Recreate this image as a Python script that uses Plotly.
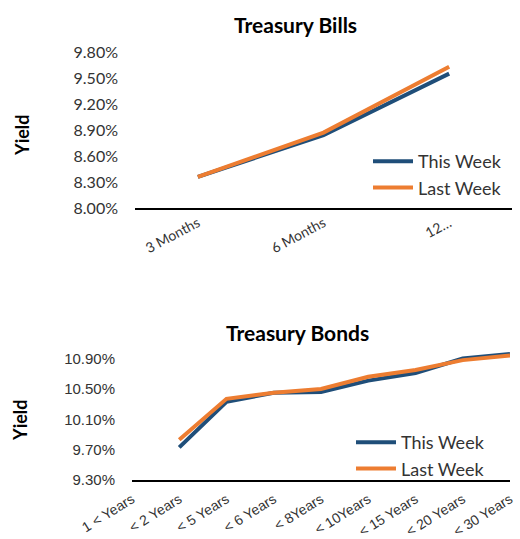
import plotly.graph_objects as go

# ---- Data ----
bill_categories = ["3 Months", "6 Months", "12…"]
bill_this_week = [8.36, 8.84, 9.55]
bill_last_week = [8.36, 8.87, 9.63]
bill_yticks = [8.00, 8.30, 8.60, 8.90, 9.20, 9.50, 9.80]

bond_categories = ["1 < Years", "< 2 Years", "< 5 Years", "< 6 Years", "< 8Years",
                   "< 10Years", "< 15 Years", "< 20 Years", "< 30 Years"]
bond_this_week = [None, 9.73, 10.33, 10.45, 10.46, 10.61, 10.71, 10.90, 10.96]
bond_last_week = [None, 9.83, 10.37, 10.45, 10.50, 10.66, 10.75, 10.88, 10.94]
bond_yticks = [9.30, 9.70, 10.10, 10.50, 10.90]

BLUE = "#1F4E79"
ORANGE = "#ED7D31"
FONT = "Lato, DejaVu Sans, sans-serif"
FONT2 = "Liberation Sans, Arial, sans-serif"

W, H = 520, 539

def yf(px):
    return 1 - px / H

fig = go.Figure()

# Top chart
fig.add_trace(go.Scatter(x=bill_categories, y=bill_this_week, name="This Week", mode="lines",
                         line=dict(color=BLUE, width=4), xaxis="x", yaxis="y", legend="legend"))
fig.add_trace(go.Scatter(x=bill_categories, y=bill_last_week, name="Last Week", mode="lines",
                         line=dict(color=ORANGE, width=4), xaxis="x", yaxis="y", legend="legend"))
# Bottom chart
fig.add_trace(go.Scatter(x=bond_categories, y=bond_this_week, name="This Week", mode="lines",
                         line=dict(color=BLUE, width=4), xaxis="x2", yaxis="y2", legend="legend2"))
fig.add_trace(go.Scatter(x=bond_categories, y=bond_last_week, name="Last Week", mode="lines",
                         line=dict(color=ORANGE, width=4), xaxis="x2", yaxis="y2", legend="legend2"))

fig.update_layout(
    width=W, height=H,
    margin=dict(l=0, r=0, t=0, b=0),
    paper_bgcolor="white", plot_bgcolor="white",
    showlegend=True,
    hovermode=False,
    xaxis=dict(domain=[135 / W, 512 / W], anchor="y", type="category",
               categoryorder="array", categoryarray=bill_categories,
               range=[-0.5, 2.5], showgrid=False, zeroline=False, automargin=False,
               showline=True, linecolor="black", linewidth=1.5,
               ticks="", tickangle=-28, tickfont=dict(family=FONT, size=14, color="#333")),
    yaxis=dict(domain=[yf(208), yf(52)], anchor="x", range=[8.0, 9.8], automargin=False,
               tickvals=bill_yticks, ticktext=[f"{v:.2f}%" for v in bill_yticks],
               showgrid=False, zeroline=False, showline=False, ticks="",
               ticklabelstandoff=16,
               tickfont=dict(family=FONT, size=16, color="#333")),
    xaxis2=dict(domain=[132 / W, 510 / W], anchor="y2", type="category",
                categoryorder="array", categoryarray=bond_categories,
                range=[0, 8], showgrid=False, zeroline=False, automargin=False,
                showline=True, linecolor="black", linewidth=1.5,
                ticks="", tickangle=-32, ticklabelstandoff=4,
                tickfont=dict(family=FONT2, size=14, color="#333")),
    yaxis2=dict(domain=[yf(480), yf(351)], anchor="x2", range=[9.3, 11.0], automargin=False,
                tickvals=bond_yticks, ticktext=[f"{v:.2f}%" for v in bond_yticks],
                showgrid=False, zeroline=False, showline=False, ticks="",
                ticklabelstandoff=16,
                tickfont=dict(family=FONT2, size=15, color="#333")),
    legend=dict(x=368 / W, y=yf(143), xanchor="left", yanchor="top",
                bgcolor="rgba(0,0,0,0)", font=dict(family=FONT, size=18, color="#333"),
                itemwidth=40, tracegroupgap=0),
    legend2=dict(x=351 / W, y=yf(424), xanchor="left", yanchor="top",
                 bgcolor="rgba(0,0,0,0)", font=dict(family=FONT, size=18, color="#333"),
                 itemwidth=40, tracegroupgap=0),
    annotations=[
        dict(text="<b>Treasury Bills</b>", x=295 / W, y=yf(24), xref="paper", yref="paper",
             xanchor="center", yanchor="middle",
             showarrow=False, font=dict(family=FONT, size=21, color="black")),
        dict(text="<b>Treasury Bonds</b>", x=297 / W, y=yf(332), xref="paper", yref="paper",
             xanchor="center", yanchor="middle",
             showarrow=False, font=dict(family=FONT, size=21, color="black")),
        dict(text="<b>Yield</b>", x=22 / W, y=yf(135), xref="paper", yref="paper",
             xanchor="center", yanchor="middle",
             showarrow=False, textangle=-90, font=dict(family=FONT, size=18, color="black")),
        dict(text="<b>Yield</b>", x=20 / W, y=yf(420), xref="paper", yref="paper",
             xanchor="center", yanchor="middle",
             showarrow=False, textangle=-90, font=dict(family=FONT, size=18, color="black")),
    ],
)

fig.write_html("out.html", config={"displayModeBar": False},
               post_script="document.body.style.margin='0';")
